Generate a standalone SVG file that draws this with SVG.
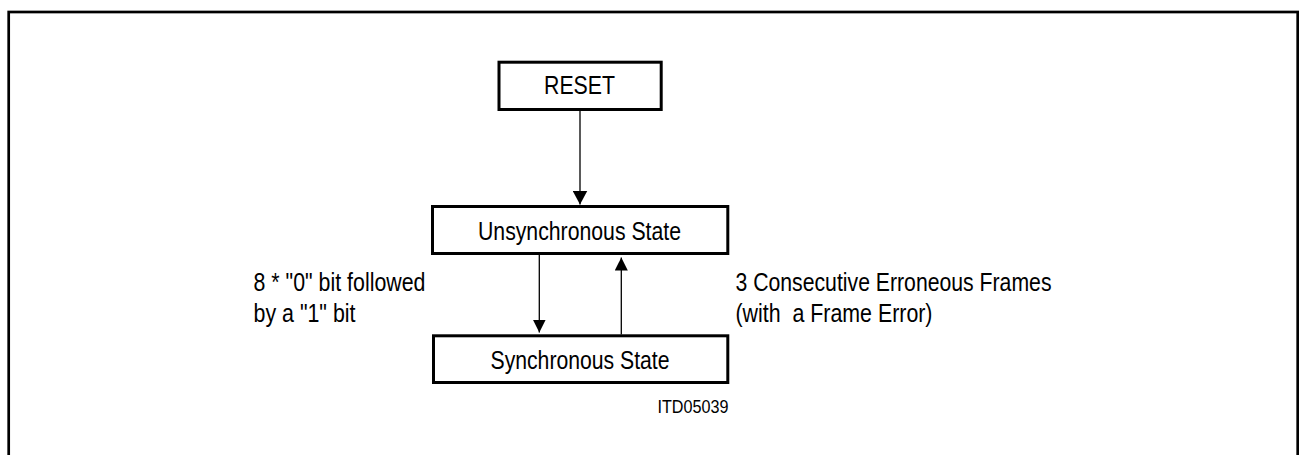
<svg xmlns="http://www.w3.org/2000/svg" width="1299" height="455" viewBox="0 0 1299 455">
  <style>
    .frame { fill: none; stroke: #000; stroke-width: 2.7; }
    .box { fill: #fff; stroke: #000; stroke-width: 3; }
    .lbl { font-family: "Liberation Sans Narrow", "Liberation Sans", Arial, sans-serif; font-size: 25px; fill: #000; }
    .small { font-family: "Liberation Sans Narrow", "Liberation Sans", Arial, sans-serif; font-size: 18.5px; fill: #000; }
    .conn { fill: none; stroke: #000; stroke-width: 1.3; }
  </style>
  <defs>
    <marker id="arrowL" viewBox="0 0 14 15" refX="14" refY="7.5" markerWidth="14" markerHeight="15" markerUnits="userSpaceOnUse" orient="auto">
      <path d="M0,0 L14,7.5 L0,15 z" fill="#000"/>
    </marker>
    <marker id="arrowS" viewBox="0 0 13 13" refX="13" refY="6.5" markerWidth="13" markerHeight="13" markerUnits="userSpaceOnUse" orient="auto">
      <path d="M0,0 L13,6.5 L0,13 z" fill="#000"/>
    </marker>
  </defs>

  <rect id="frame" class="frame" x="8.7" y="12" width="1289" height="470"/>

  <g id="connectors">
    <path class="conn" d="M580 110 V204.5" marker-end="url(#arrowL)"/>
    <path class="conn" d="M539.3 254.5 V332.5" marker-end="url(#arrowS)"/>
    <path class="conn" d="M621.3 334.5 V257.5" marker-end="url(#arrowS)"/>
  </g>

  <g id="node-reset">
    <rect class="box" x="499" y="62.2" width="162.2" height="47.3"/>
    <text class="lbl" x="544" y="94" textLength="71" lengthAdjust="spacingAndGlyphs">RESET</text>
  </g>

  <g id="node-unsync">
    <rect class="box" x="432.5" y="206.5" width="295.3" height="47"/>
    <text class="lbl" x="478" y="239.5" textLength="203" lengthAdjust="spacingAndGlyphs">Unsynchronous State</text>
  </g>

  <g id="node-sync">
    <rect class="box" x="433.5" y="335.8" width="294.3" height="46.7"/>
    <text class="lbl" x="490.5" y="369.3" textLength="179" lengthAdjust="spacingAndGlyphs">Synchronous State</text>
  </g>

  <g id="label-left">
    <text class="lbl" x="253.5" y="291" textLength="172" lengthAdjust="spacingAndGlyphs">8 * "0" bit followed</text>
    <text class="lbl" x="253.5" y="321.7" textLength="102" lengthAdjust="spacingAndGlyphs">by a "1" bit</text>
  </g>

  <g id="label-right">
    <text class="lbl" x="735.5" y="290.7" textLength="316" lengthAdjust="spacingAndGlyphs">3 Consecutive Erroneous Frames</text>
    <text class="lbl" x="735.5" y="321.7" textLength="197" lengthAdjust="spacingAndGlyphs" xml:space="preserve" style="white-space:pre">(with  a Frame Error)</text>
  </g>

  <g id="label-id">
    <text class="small" x="657.5" y="412.7" textLength="71" lengthAdjust="spacingAndGlyphs">ITD05039</text>
  </g>
</svg>
